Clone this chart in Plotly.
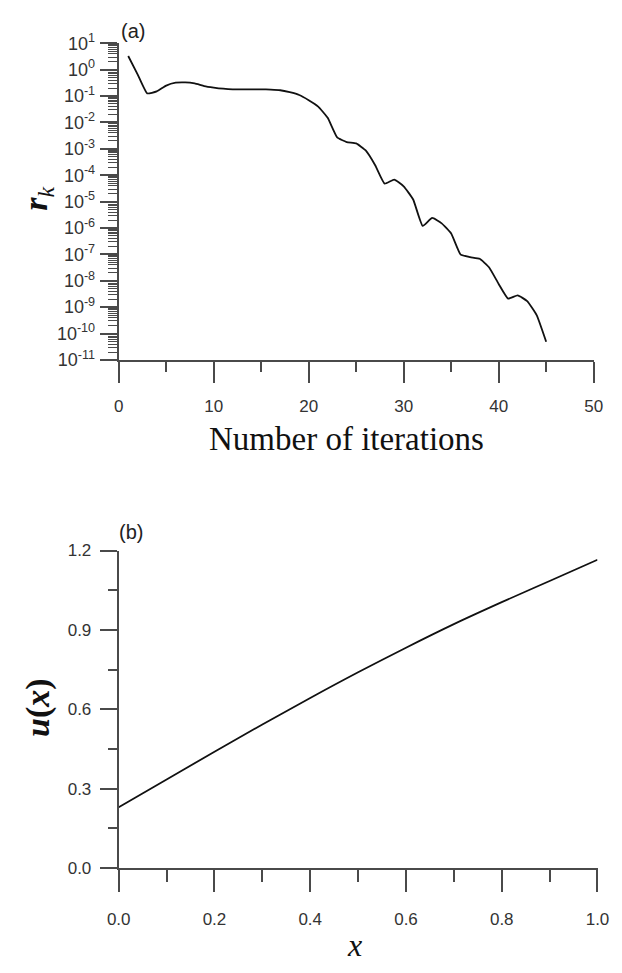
import plotly.graph_objects as go

# ---- data: panel (a) ----
iterations = list(range(1, 46))
residual = [3.3, 6.5e-1, 1.26e-1, 1.5e-1, 2.5e-1, 3.2e-1, 3.3e-1, 3.0e-1, 2.4e-1, 2.1e-1,
            1.9e-1, 1.8e-1, 1.8e-1, 1.8e-1, 1.8e-1, 1.75e-1, 1.66e-1, 1.4e-1, 1.1e-1, 7.0e-2,
            4.0e-2, 1.5e-2, 2.7e-3, 1.8e-3, 1.6e-3, 8.7e-4, 2.4e-4, 4.8e-5, 6.8e-5, 3.8e-5,
            1.2e-5, 1.2e-6, 2.4e-6, 1.5e-6, 6.2e-7, 9.8e-8, 7.9e-8, 6.8e-8, 3.2e-8, 7.6e-9,
            2.1e-9, 2.8e-9, 1.7e-9, 5.0e-10, 4.9e-11]
log_exponents = list(range(-11, 2))
x_ticks_a = [0, 10, 20, 30, 40, 50]

# ---- data: panel (b) ----
x_vals = [0.0, 0.1, 0.2, 0.3, 0.4, 0.5, 0.6, 0.7, 0.8, 0.9, 1.0]
u_vals = [0.23, 0.335, 0.44, 0.543, 0.643, 0.74, 0.833, 0.922, 1.005, 1.085, 1.165]
y_ticks_b = [0.0, 0.3, 0.6, 0.9, 1.2]
x_ticks_b = [0.0, 0.2, 0.4, 0.6, 0.8, 1.0]

W, H = 622, 973
def px(x):
    return x / W
def py(y):
    return 1 - y / H

AX = "#4a4a4a"
TICKFONT = dict(family="Liberation Sans, Arial, sans-serif", size=17, color="#333")
LOGFONT = dict(family="Liberation Sans, Arial, sans-serif", size=18, color="#333")

fig = go.Figure()
fig.add_trace(go.Scatter(x=iterations, y=residual, mode="lines",
                         line=dict(color="#111", width=1.8, shape="spline", smoothing=0.4),
                         xaxis="x", yaxis="y", showlegend=False))
fig.add_trace(go.Scatter(x=x_vals, y=u_vals, mode="lines",
                         line=dict(color="#111", width=1.8, shape="spline"),
                         xaxis="x2", yaxis="y2", showlegend=False))

fig.update_layout(
    width=W, height=H, margin=dict(l=0, r=0, t=0, b=0),
    paper_bgcolor="white", plot_bgcolor="white",
    xaxis=dict(domain=[px(111), px(605)], anchor="y", range=[0, 50],
               tickvals=x_ticks_a, ticks="outside", ticklen=21, tickwidth=1.5, tickcolor=AX,
               showline=True, linecolor=AX, linewidth=2, showgrid=False, zeroline=False,
               tickfont=TICKFONT, ticklabelstandoff=9,
               minor=dict(ticks="outside", ticklen=10, tickwidth=1.5, tickcolor=AX, dtick=5)),
    yaxis=dict(domain=[py(356), py(32)], anchor="x", type="log", range=[-11, 1],
               tickmode="array", tickvals=[10.0 ** e for e in log_exponents],
               ticktext=["10<sup>%d</sup>" % e for e in log_exponents],
               ticks="outside", ticklen=17, tickwidth=1.5, tickcolor=AX,
               showline=True, linecolor=AX, linewidth=2, showgrid=False, zeroline=False,
               tickfont=LOGFONT, ticklabelstandoff=1,
               minor=dict(ticks="outside", ticklen=9, tickwidth=1, tickcolor=AX, dtick="D1")),
    xaxis2=dict(domain=[px(111), px(609)], anchor="y2", range=[0, 1],
                tickvals=x_ticks_b, ticktext=["%.1f" % v for v in x_ticks_b],
                ticks="outside", ticklen=22, tickwidth=1.5, tickcolor=AX,
                showline=True, linecolor=AX, linewidth=2, showgrid=False, zeroline=False,
                tickfont=TICKFONT, ticklabelstandoff=12,
                minor=dict(ticks="outside", ticklen=12, tickwidth=1.5, tickcolor=AX, dtick=0.1)),
    yaxis2=dict(domain=[py(876), py(551)], anchor="x2", range=[0, 1.2],
                tickvals=y_ticks_b, ticktext=["%.1f" % v for v in y_ticks_b],
                ticks="outside", ticklen=17, tickwidth=1.5, tickcolor=AX,
                showline=True, linecolor=AX, linewidth=2, showgrid=False, zeroline=False,
                tickfont=TICKFONT, ticklabelstandoff=5,
                minor=dict(ticks="outside", ticklen=9, tickwidth=1.5, tickcolor=AX, dtick=0.15)),
)

SERIF = "Liberation Serif, Times New Roman, serif"
ann = [
    dict(text="(a)", x=px(126), y=py(19), font=dict(family=TICKFONT["family"], size=20, color="#222")),
    dict(text="(b)", x=px(124), y=py(532), font=dict(family=TICKFONT["family"], size=20, color="#222")),
    dict(text="Number of iterations", x=px(348), y=py(437),
         font=dict(family=SERIF, size=33, color="#111")),
    dict(text="<b><i>r</i></b><sub><i>k</i></sub>", x=px(27), y=py(191), textangle=-90,
         font=dict(family=SERIF, size=34, color="#111")),
    dict(text="<b><i>u</i>(<i>x</i>)</b>", x=px(27), y=py(711), textangle=-90,
         font=dict(family=SERIF, size=34, color="#111")),
    dict(text="<i>x</i>", x=px(356), y=py(955),
         font=dict(family=SERIF, size=32, color="#111")),
]
for a in ann:
    a.update(xref="paper", yref="paper", showarrow=False, xanchor="center", yanchor="middle")
fig.update_layout(annotations=ann)

fig.write_html("out.html")
